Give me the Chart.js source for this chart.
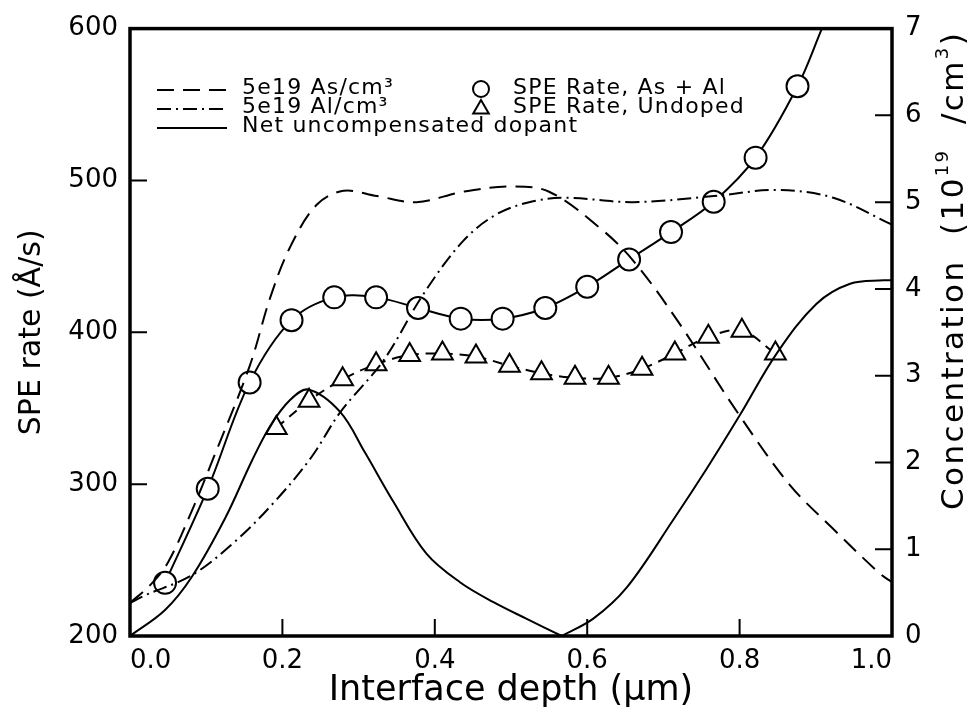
<!DOCTYPE html>
<html>
<head>
<meta charset="utf-8">
<script src="https://cdn.jsdelivr.net/npm/chart.js@4.4.1/dist/chart.umd.min.js"></script>
<style>
  html, body { margin: 0; padding: 0; background: #fff; }
</style>
</head>
<body>
<canvas id="speChart" width="980" height="722"></canvas>
<script>
// SPE rate with As + Al (circles) and undoped (triangles), left axis
var rateDepth = [0.046, 0.102, 0.157, 0.212, 0.268, 0.323, 0.378, 0.434, 0.489, 0.545, 0.600, 0.655, 0.710, 0.766, 0.821, 0.876];
var rateDoped = [235, 297, 367, 408, 423, 423, 416, 409, 409, 416, 430, 448, 466, 486, 515, 562];
// fitted curve through the doped points, runs off the top
var fitDepth = rateDepth.concat([0.908]);
var fitRate = rateDoped.concat([600]);

var undopedDepth = [0.192, 0.235, 0.279, 0.323, 0.367, 0.410, 0.454, 0.498, 0.540, 0.584, 0.628, 0.672, 0.715, 0.759, 0.803, 0.847];
var undopedRate = [337, 355, 369, 379, 385, 386, 384, 378, 373, 370, 370, 376, 386, 397, 401, 386];

// concentration profiles (1e19 /cm3), right axis
var asDepth = [0, 0.028, 0.05, 0.081, 0.109, 0.157, 0.184, 0.21, 0.245, 0.28, 0.324, 0.376, 0.437, 0.499, 0.55, 0.617, 0.66, 0.718, 0.80, 0.866, 0.921, 0.984, 1.0];
var asConc = [0.38, 0.6, 0.85, 1.44, 2.04, 3.11, 3.90, 4.48, 4.97, 5.13, 5.07, 5.0, 5.12, 5.18, 5.12, 4.70, 4.33, 3.64, 2.54, 1.74, 1.25, 0.72, 0.62];

var alDepth = [0, 0.02, 0.081, 0.138, 0.19, 0.238, 0.276, 0.333, 0.385, 0.437, 0.481, 0.529, 0.573, 0.66, 0.766, 0.849, 0.923, 1.0];
var alConc = [0.38, 0.47, 0.70, 1.09, 1.55, 2.06, 2.58, 3.18, 3.94, 4.55, 4.86, 5.01, 5.05, 5.0, 5.07, 5.14, 5.05, 4.74];

var netDepth = [0, 0.046, 0.081, 0.125, 0.16, 0.184, 0.21, 0.234, 0.276, 0.308, 0.3455, 0.389, 0.433, 0.477, 0.52, 0.5665, 0.608, 0.652, 0.713, 0.757, 0.80, 0.849, 0.901, 0.945, 0.989, 1.0];
var netConc = [0, 0.30, 0.68, 1.36, 2.02, 2.42, 2.72, 2.84, 2.58, 2.12, 1.55, 0.95, 0.62, 0.39, 0.20, 0.0, 0.20, 0.56, 1.34, 1.93, 2.54, 3.26, 3.83, 4.06, 4.10, 4.10];
var netCusp = 15; // index where net dopant goes through zero

var xTicks = [0, 0.2, 0.4, 0.6, 0.8, 1.0];
var rateTicks = [200, 300, 400, 500, 600];
var concTicks = [0, 1, 2, 3, 4, 5, 6, 7];

function pts(xs, ys) {
  return xs.map(function (x, i) { return {x: x, y: ys[i]}; });
}

var FONT = "'DejaVu Sans', 'Liberation Sans', sans-serif";
Chart.defaults.font.family = FONT;
Chart.defaults.color = '#000';

var dashAs = [17, 9];
var dashAl = [14, 5, 2, 5];
var dashUndoped = [10, 7];

var lineBase = {
  borderColor: '#000',
  borderWidth: 2,
  pointRadius: 0,
  fill: false,
  tension: 0.35
};

function line(extra) {
  return Object.assign({}, lineBase, extra);
}

var frame = {
  id: 'frame',
  afterDatasetsDraw: function (chart) {
    var ctx = chart.ctx, a = chart.chartArea;
    var sx = chart.scales.x, sy = chart.scales.y, sc = chart.scales.yc;
    ctx.save();
    ctx.strokeStyle = '#000';
    ctx.lineWidth = 2;
    ctx.setLineDash([]);
    ctx.beginPath();
    xTicks.forEach(function (v) {
      var px = sx.getPixelForValue(v);
      ctx.moveTo(px, a.bottom); ctx.lineTo(px, a.bottom - 17);
    });
    rateTicks.forEach(function (v) {
      var py = sy.getPixelForValue(v);
      ctx.moveTo(a.left, py); ctx.lineTo(a.left + 17, py);
    });
    concTicks.forEach(function (v) {
      var py = sc.getPixelForValue(v);
      ctx.moveTo(a.right, py); ctx.lineTo(a.right - 17, py);
    });
    ctx.stroke();
    ctx.lineWidth = 3.5;
    ctx.strokeRect(a.left, a.top, a.right - a.left, a.bottom - a.top);
    ctx.restore();
  }
};

var legendBox = {
  id: 'legendBox',
  afterDraw: function (chart) {
    var ctx = chart.ctx;
    ctx.save();
    ctx.strokeStyle = '#000';
    ctx.fillStyle = '#000';
    ctx.lineWidth = 2;
    ctx.font = '22px ' + FONT;
    ctx.letterSpacing = '1.2px';
    ctx.textBaseline = 'middle';
    ctx.textAlign = 'left';

    var rows = [
      {text: '5e19 As/cm\u00B3', dash: dashAs, y: 88},
      {text: '5e19 Al/cm\u00B3', dash: dashAl, y: 107},
      {text: 'Net uncompensated dopant', dash: [], y: 126}
    ];
    rows.forEach(function (r) {
      ctx.setLineDash(r.dash);
      ctx.beginPath();
      ctx.moveTo(157, r.y + 2); ctx.lineTo(227, r.y + 2);
      ctx.stroke();
      ctx.setLineDash([]);
      ctx.fillText(r.text, 242, r.y);
    });
    ctx.fillText('SPE Rate, As + Al', 513, 88);
    ctx.fillText('SPE Rate, Undoped', 513, 107);

    // open markers in the legend
    ctx.setLineDash([]);
    ctx.fillStyle = 'rgba(0,0,0,0)';
    Chart.helpers.drawPoint(ctx, {pointStyle: 'circle', radius: 8, borderWidth: 2}, 481, 89);
    Chart.helpers.drawPoint(ctx, {pointStyle: 'triangle', radius: 9, borderWidth: 2}, 481, 109);

    // right axis title, reads bottom to top, with superscripts
    ctx.fillStyle = '#000';
    ctx.letterSpacing = '2.4px';
    ctx.translate(955, 510);
    ctx.rotate(-Math.PI / 2);
    var parts = [
      ['Concentration  (10', 31, 0],
      ['19', 18, -12],
      ['  /cm', 31, 0],
      ['3', 18, -12],
      [')', 31, 0]
    ];
    var x = 0;
    parts.forEach(function (p) {
      ctx.font = p[1] + 'px ' + FONT;
      ctx.fillText(p[0], x, p[2]);
      x += ctx.measureText(p[0]).width;
    });
    ctx.restore();
  }
};

var ctx = document.getElementById('speChart').getContext('2d');
new Chart(ctx, {
  type: 'line',
  data: {
    datasets: [
      line({label: '5e19 As/cm3', data: pts(asDepth, asConc), yAxisID: 'yc', borderDash: dashAs, order: 0}),
      line({label: '5e19 Al/cm3', data: pts(alDepth, alConc), yAxisID: 'yc', borderDash: dashAl, order: 0}),
      line({label: 'Net uncompensated dopant', data: pts(netDepth.slice(0, netCusp + 1), netConc.slice(0, netCusp + 1)), yAxisID: 'yc', order: 0}),
      line({label: 'Net uncompensated dopant ', data: pts(netDepth.slice(netCusp), netConc.slice(netCusp)), yAxisID: 'yc', order: 0}),
      line({label: 'fit', data: pts(fitDepth, fitRate), yAxisID: 'y', order: 2}),
      {
        label: 'SPE Rate, As + Al',
        data: pts(rateDepth, rateDoped),
        yAxisID: 'y',
        showLine: false,
        pointStyle: 'circle',
        pointRadius: 11,
        pointBorderWidth: 2,
        pointBorderColor: '#000',
        pointBackgroundColor: '#fff',
        order: 1
      },
      line({
        label: 'SPE Rate, Undoped',
        data: pts(undopedDepth, undopedRate),
        yAxisID: 'y',
        borderDash: dashUndoped,
        pointStyle: 'triangle',
        pointRadius: 12,
        pointBorderWidth: 2,
        pointBorderColor: '#000',
        pointBackgroundColor: '#fff',
        order: 1
      })
    ]
  },
  options: {
    responsive: false,
    animation: false,
    layout: {padding: {top: 22, left: 0, right: 0, bottom: 0}},
    plugins: {legend: {display: false}, tooltip: {enabled: false}},
    scales: {
      x: {
        type: 'linear',
        min: 0, max: 1,
        grid: {display: false, drawTicks: false},
        border: {display: false},
        afterBuildTicks: function (s) { s.ticks = xTicks.map(function (v) { return {value: v}; }); },
        ticks: {
          align: 'inner',
          padding: 10,
          font: {size: 26},
          callback: function (v) { return v.toFixed(1); }
        },
        title: {display: true, text: 'Interface depth (\u03BCm)', font: {size: 35}, padding: {bottom: 10}},
        afterFit: function (s) { s.height = 86; }
      },
      y: {
        position: 'left',
        min: 200, max: 600,
        grid: {display: false, drawTicks: false},
        border: {display: false},
        afterBuildTicks: function (s) { s.ticks = rateTicks.map(function (v) { return {value: v}; }); },
        ticks: {padding: 12, font: {size: 26}},
        title: {display: true, text: 'SPE rate (\u00C5/s)', font: {size: 30}, padding: {top: 14}},
        afterFit: function (s) { s.width = 130; }
      },
      yc: {
        position: 'right',
        min: 0, max: 7,
        grid: {display: false, drawTicks: false},
        border: {display: false},
        afterBuildTicks: function (s) { s.ticks = concTicks.map(function (v) { return {value: v}; }); },
        ticks: {padding: 13, font: {size: 26}},
        afterFit: function (s) { s.width = 88; }
      }
    }
  },
  plugins: [frame, legendBox]
});
</script>
</body>
</html>
